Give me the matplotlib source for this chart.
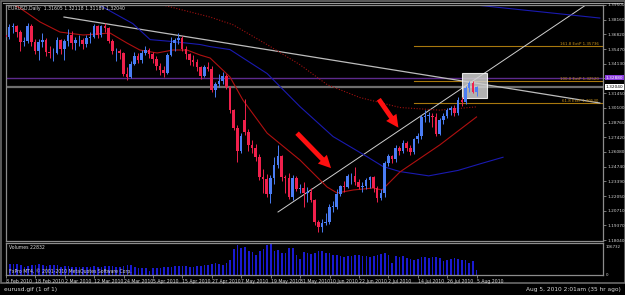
import matplotlib
matplotlib.use("Agg")
import matplotlib.pyplot as plt
from matplotlib.patches import Rectangle

W, H = 625, 295

# ---- data (bar index 0 = 8 Feb 2010) ----
opens = [1.3680,1.3660,1.3745,1.3760,1.3700,1.3610,1.3620,1.3760,1.3610,1.3530,
         1.3610,1.3630,1.3520,1.3510,1.3515,1.3630,1.3550,1.3620,1.3680,1.3600,
         1.3630,1.3630,1.3590,1.3650,1.3660,1.3760,1.3680,1.3760,1.3740,1.3620,
         1.3530,1.3530,1.3510,1.3320,1.3290,1.3410,1.3480,1.3450,1.3510,1.3540,
         1.3500,1.3460,1.3390,1.3360,1.3330,1.3490,1.3600,1.3630,1.3650,1.3550,
         1.3500,1.3450,1.3430,1.3380,1.3300,1.3380,1.3370,1.3170,1.3230,1.3260,
         1.3300,1.3200,1.2990,1.2830,1.2620,1.2900,1.2790,1.2670,1.2640,1.2560,
         1.2380,1.2360,1.2220,1.2370,1.2490,1.2570,1.2380,1.2370,1.2200,1.2370,
         1.2270,1.2280,1.2230,1.2240,1.2170,1.1970,1.1920,1.1960,1.1970,1.2110,
         1.2110,1.2220,1.2300,1.2290,1.2390,1.2390,1.2330,1.2290,1.2300,1.2350,
         1.2380,1.2280,1.2190,1.2230,1.2510,1.2570,1.2540,1.2640,1.2620,1.2690,
         1.2640,1.2610,1.2730,1.2750,1.2930,1.2940,1.2940,1.2930,1.2770,1.2900,
         1.2940,1.2990,1.3010,1.2960,1.3080,1.3060,1.3190,1.3240,1.3160]
highs = [1.3740,1.3780,1.3790,1.3770,1.3720,1.3660,1.3790,1.3780,1.3640,1.3640,
         1.3690,1.3650,1.3580,1.3560,1.3660,1.3640,1.3640,1.3730,1.3710,1.3660,
         1.3680,1.3650,1.3680,1.3700,1.3780,1.3770,1.3770,1.3787,1.3750,1.3640,
         1.3560,1.3550,1.3520,1.3380,1.3440,1.3520,1.3510,1.3540,1.3580,1.3560,
         1.3520,1.3480,1.3420,1.3390,1.3510,1.3660,1.3650,1.3692,1.3670,1.3580,
         1.3510,1.3490,1.3460,1.3390,1.3400,1.3430,1.3390,1.3250,1.3320,1.3340,
         1.3320,1.3210,1.3000,1.2850,1.2780,1.3093,1.2820,1.2720,1.2680,1.2590,
         1.2450,1.2410,1.2400,1.2560,1.2670,1.2580,1.2400,1.2420,1.2400,1.2390,
         1.2320,1.2330,1.2290,1.2280,1.2180,1.1990,1.2000,1.2050,1.2130,1.2160,
         1.2270,1.2310,1.2340,1.2410,1.2420,1.2470,1.2360,1.2330,1.2370,1.2390,
         1.2390,1.2300,1.2270,1.2530,1.2590,1.2580,1.2670,1.2660,1.2720,1.2710,
         1.2670,1.2740,1.2780,1.2950,1.2990,1.2970,1.2960,1.2960,1.2920,1.2960,
         1.3010,1.3030,1.3040,1.3110,1.3110,1.3210,1.3260,1.3260,1.3212]
lows = [1.3585,1.3640,1.3690,1.3660,1.3530,1.3580,1.3600,1.3580,1.3500,1.3445,
        1.3570,1.3480,1.3470,1.3435,1.3500,1.3500,1.3450,1.3580,1.3550,1.3540,
        1.3580,1.3550,1.3570,1.3600,1.3650,1.3650,1.3660,1.3700,1.3600,1.3500,
        1.3440,1.3460,1.3300,1.3267,1.3280,1.3400,1.3420,1.3420,1.3490,1.3470,
        1.3420,1.3360,1.3310,1.3290,1.3320,1.3480,1.3530,1.3590,1.3530,1.3460,
        1.3400,1.3390,1.3350,1.3270,1.3290,1.3350,1.3160,1.3110,1.3200,1.3230,
        1.3180,1.2960,1.2810,1.2520,1.2600,1.2760,1.2620,1.2600,1.2530,1.2350,
        1.2235,1.2200,1.2143,1.2320,1.2460,1.2340,1.2230,1.2180,1.2170,1.2250,
        1.2230,1.2110,1.2150,1.2150,1.1940,1.1876,1.1880,1.1940,1.1950,1.2060,
        1.2090,1.2210,1.2240,1.2280,1.2320,1.2310,1.2270,1.2240,1.2270,1.2280,
        1.2240,1.2153,1.2170,1.2200,1.2480,1.2510,1.2520,1.2580,1.2600,1.2620,
        1.2580,1.2590,1.2690,1.2730,1.2880,1.2880,1.2840,1.2750,1.2760,1.2860,
        1.2920,1.2950,1.2940,1.2950,1.3030,1.3050,1.3160,1.3150,1.3119]
closes = [1.3660,1.3745,1.3760,1.3700,1.3610,1.3620,1.3760,1.3610,1.3530,1.3610,
          1.3630,1.3520,1.3510,1.3515,1.3630,1.3550,1.3620,1.3680,1.3600,1.3630,
          1.3630,1.3590,1.3650,1.3660,1.3760,1.3680,1.3760,1.3740,1.3620,1.3530,
          1.3530,1.3510,1.3320,1.3290,1.3410,1.3480,1.3450,1.3510,1.3540,1.3500,
          1.3460,1.3390,1.3360,1.3330,1.3490,1.3600,1.3630,1.3650,1.3550,1.3500,
          1.3450,1.3430,1.3380,1.3300,1.3380,1.3370,1.3170,1.3230,1.3260,1.3300,
          1.3200,1.2990,1.2830,1.2620,1.2750,1.2790,1.2670,1.2640,1.2560,1.2380,
          1.2360,1.2220,1.2370,1.2490,1.2570,1.2380,1.2370,1.2200,1.2370,1.2270,
          1.2280,1.2230,1.2240,1.2170,1.1970,1.1920,1.1960,1.1970,1.2110,1.2110,
          1.2220,1.2300,1.2290,1.2390,1.2390,1.2330,1.2290,1.2300,1.2350,1.2380,
          1.2280,1.2190,1.2230,1.2510,1.2570,1.2540,1.2640,1.2620,1.2690,1.2640,
          1.2610,1.2730,1.2750,1.2930,1.2940,1.2940,1.2930,1.2770,1.2900,1.2940,
          1.2990,1.3010,1.2960,1.3080,1.3060,1.3190,1.3240,1.3160,1.3204]
volumes = [40,42,40,41,38,30,34,36,38,40,36,35,37,38,36,
           30,32,33,30,31,28,30,31,29,33,30,31,32,34,33,30,31,33,38,36,28,27,26,
           25,15,24,26,27,28,29,30,32,35,33,34,30,31,33,35,38,36,42,44,40,38,
           45,55,95,110,100,105,90,85,75,88,95,112,114,90,92,82,80,100,98,72,60,
           85,80,78,82,88,90,82,80,72,74,70,68,71,70,72,74,70,70,68,71,72,78,
           80,75,45,70,66,70,64,58,55,60,68,66,63,65,66,62,52,55,58,62,60,57,57,45,50,18]
volumes = [v * 1000 for v in volumes]

# moving averages, read as (bar, price) points
ma_red_x = [0.7,3.9,9.4,14.8,21.1,28.4,33.0,36.5,41.2,45.5,49.3,52.9,55.6,61.0,64.5,71.1,
            80.0,87.4,90.1,94.5,99.9,102.3,107.2,118.0,128.0]
ma_red_y = [1.3977,1.3923,1.3795,1.3703,1.3676,1.3694,1.3603,1.3539,1.3512,1.3539,1.3539,
            1.3493,1.3466,1.3293,1.3083,1.2780,1.2535,1.2288,1.2234,1.2261,1.2279,1.2261,
            1.2426,1.2672,1.2928]
ma_blue_x = [23.0,26.0,34.6,39.3,45.5,52.9,55.6,61.0,71.1,80.0,89.0,98.2,102.6,107.2,115.0,
             123.0,129.0,135.2]
ma_blue_y = [1.3990,1.3940,1.3780,1.3634,1.3616,1.3589,1.3570,1.3543,1.3324,1.3023,1.2749,
             1.2566,1.2475,1.2429,1.2390,1.2440,1.2500,1.2560]
ma_dot_x = [40.0,41.6,55.6,61.8,71.1,80.0,87.4,96.3,107.2,118.0,128.0]
ma_dot_y = [1.3990,1.3960,1.3840,1.3770,1.3588,1.3405,1.3223,1.3105,1.3014,1.2990,1.3020]
ma_top_x = [124.9, 161.5]
ma_top_y = [1.3960, 1.3831]

price_ticks = [1.39500,1.38160,1.36820,1.35470,1.34130,1.32790,1.31450,1.30100,1.28760,
               1.27420,1.26080,1.24740,1.23390,1.22050,1.20710,1.19370,1.18040]
date_labels = ["8 Feb 2010","18 Feb 2010","2 Mar 2010","12 Mar 2010","24 Mar 2010",
               "5 Apr 2010","15 Apr 2010","27 Apr 2010","7 May 2010","19 May 2010",
               "31 May 2010","10 Jun 2010","22 Jun 2010","2 Jul 2010","14 Jul 2010",
               "26 Jul 2010","5 Aug 2010"]
fib_levels = [1.35736, 1.32520, 1.30530]
fib_names = ["161.8 ExtP 1.35736", "100.0 ExtP 1.32520", "61.8 ExtP 1.30530"]
purple_level = 1.32880
bid = 1.32040

BULL, BEAR = "#4a7df5", "#f0204c"
GRID = "#8c8c8c"
TXT = "#d8d8d8"
FS = 3.1


def px_axes(fig, x0, y0, x1, y1):
    return fig.add_axes([x0 / W, 1 - y1 / H, (x1 - x0) / W, (y1 - y0) / H])


fig = plt.figure(figsize=(W / 100, H / 100), dpi=100, facecolor="#000000")

# outer window frame
bg = fig.add_axes([0, 0, 1, 1])
bg.set_xlim(0, W)
bg.set_ylim(H, 0)
bg.axis("off")
bg.add_patch(Rectangle((0.5, 0.5), W - 1, 282, fill=False, edgecolor="#6a6a6a", lw=1.2))
bg.plot([3, 622], [3, 3], color="#9a9a9a", lw=0.8)
bg.text(4, 289, "eurusd.gif (1 of 1)", color=TXT, fontsize=4.2, va="center")
bg.text(621, 289, "Aug 5, 2010 2:01am (35 hr ago)", color=TXT, fontsize=4.2, va="center", ha="right")

x0, x1 = 6, 603
ax = px_axes(fig, x0, 5, x1, 241)
vax = px_axes(fig, x0, 243, x1, 275)

bars_per_px = 1 / 3.68
xmin = (x0 - 5.5) * bars_per_px
xmax = (x1 - 5.5) * bars_per_px

for a in (ax, vax):
    a.set_facecolor("#000000")
    a.set_xlim(xmin, xmax)
    for s in a.spines.values():
        s.set_color(GRID)
        s.set_linewidth(0.9)

ax.set_ylim(1.17952, 1.39499)

# horizontal objects
ax.axhline(purple_level, color="#5d2a8c", lw=1.0, zorder=1)
ax.axhline(bid, color="#6e6e6e", lw=1.6, zorder=1)
for lv, name in zip(fib_levels, fib_names):
    ax.plot([111, xmax], [lv, lv], color="#a8780e", lw=0.8, zorder=1)
    ax.text(xmax - 1.2, lv + 0.0005, name, color="#c89018", fontsize=2.9, ha="right", va="bottom")

# trend lines
ax.plot([15.9, 161.5], [1.3840, 1.3055], color="#bdbdbd", lw=0.9, zorder=2)
ax.plot([74.05, 161.5], [1.2060, 1.4036], color="#d0d0d0", lw=0.7, zorder=2)

# moving averages
ax.plot(ma_blue_x, ma_blue_y, color="#1a1ab0", lw=0.8, zorder=2)
ax.plot(ma_top_x, ma_top_y, color="#1a1ab0", lw=0.8, zorder=2)
ax.plot(ma_red_x, ma_red_y, color="#b01010", lw=0.8, zorder=2)
ax.plot(ma_dot_x, ma_dot_y, color="#a01010", lw=0.8, ls=(0, (1, 1.5)), zorder=2)

# highlight box
ax.add_patch(Rectangle((124.0, 1.3101), 6.8, 0.0228, facecolor="#d0d0d0", alpha=0.85,
                       edgecolor="#ffffff", lw=0.8, zorder=3))

# candles
for i in range(len(closes)):
    col = BULL if closes[i] >= opens[i] else BEAR
    ax.vlines(i, lows[i], highs[i], color=col, lw=0.7, zorder=4)
    lo, hi = sorted((opens[i], closes[i]))
    ax.bar(i, max(hi - lo, 0.00015), bottom=lo, width=0.7, color=col, lw=0, zorder=5)

# arrows
for (ax0, ay0, ax1_, ay1) in [(78.7, 1.2798, 89.0, 1.2442), (101.0, 1.3110, 107.2, 1.2809)]:
    ax.annotate("", xy=(ax1_, ay1), xytext=(ax0, ay0),
                arrowprops=dict(arrowstyle="simple,head_length=0.9,head_width=0.9,tail_width=0.35",
                                color="#ff1010", lw=0), zorder=6)

ax.set_xticks([])
ax.yaxis.tick_right()
ax.set_yticks(price_ticks)
# the tick under the purple marker is hidden by it
ax.set_yticklabels(["" if abs(p - purple_level) < 0.002 else f"{p:.5f}" for p in price_ticks])
ax.tick_params(axis="y", colors=GRID, labelcolor=TXT, labelsize=FS, length=2, width=0.6, pad=1)

# price markers
ax.text(xmax + 0.7, purple_level, f"{purple_level:.5f}", color="#ffffff", fontsize=FS,
        va="center", ha="left", bbox=dict(boxstyle="square,pad=0.2", fc="#8a3ae0", ec="none"),
        clip_on=False, zorder=10)
ax.text(xmax + 0.7, bid, f"{bid:.5f}", color="#000000", fontsize=FS, va="center", ha="left",
        bbox=dict(boxstyle="square,pad=0.2", fc="#ffffff", ec="none"), clip_on=False, zorder=10)

ax.text(xmin + 0.6, 1.39499 - 0.0035, "EURUSD,Daily  1.31605 1.32118 1.31189 1.32040",
        color=TXT, fontsize=3.3, va="center")

# volume panel
vax.bar(range(len(volumes)), volumes, width=0.45, color="#1a1ad0", lw=0)
vax.set_ylim(0, 118000)
vax.yaxis.tick_right()
vax.set_yticks([0, 106732])
vax.set_yticklabels(["0", "106732"])
vax.tick_params(axis="y", colors=GRID, labelcolor=TXT, labelsize=FS - 0.2, length=0, pad=2)
vax.text(xmin + 0.6, 112000, "Volumes 22832", color=TXT, fontsize=3.3, va="top")
vax.text(xmin + 0.6, 5000, "FxPro MT4, \u00a9 2001-2010 MetaQuotes Software Corp.", color=TXT,
         fontsize=3.3, va="bottom")

vax.set_xticks(range(0, 129, 8))
vax.set_xticklabels(date_labels, ha="left")
vax.tick_params(axis="x", colors=GRID, labelcolor=TXT, labelsize=3.3, length=2, width=0.6, pad=1)

fig.savefig("out.png", dpi=100, facecolor=fig.get_facecolor())
